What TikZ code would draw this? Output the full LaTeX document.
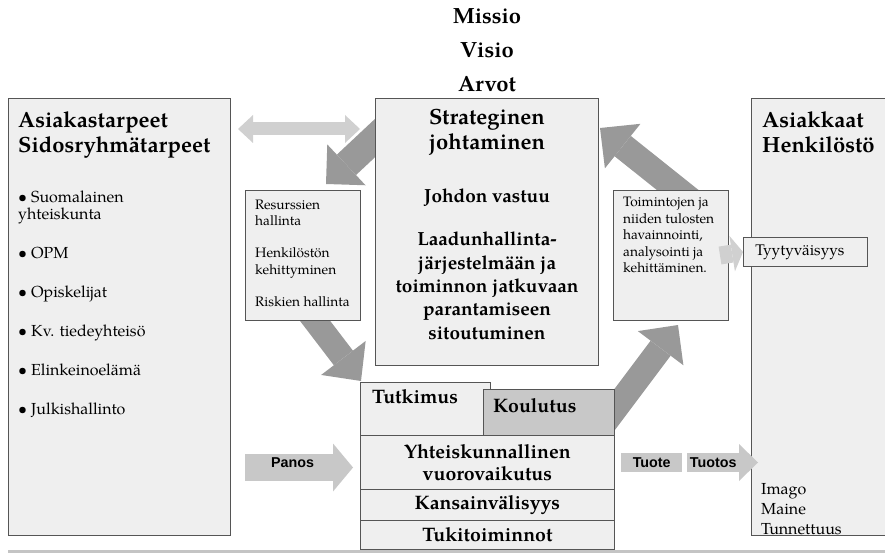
\documentclass[tikz,border=0pt]{standalone}
\usepackage{fontspec}
\setmainfont{TeX Gyre Pagella}
\newfontfamily\arialfont{Liberation Sans}
\usepackage{tikz}
\usetikzlibrary{arrows.meta}
\definecolor{boxfill}{HTML}{EFEFEF}
\definecolor{boxline}{HTML}{555555}
\definecolor{darkfill}{HTML}{C8C8C8}
\definecolor{bigarrow}{HTML}{999999}
\definecolor{lightarrow}{HTML}{D0D0D0}
\definecolor{footline}{HTML}{C4C4C4}
\newcommand{\fsz}[2]{\fontsize{#1}{#2}\selectfont}
\tikzset{
  panel/.style={draw=boxline, fill=boxfill, line width=0.8pt, inner sep=0pt, anchor=north west},
  flow/.style n args={3}{line width=#1, -{Triangle[width=#2, length=#3, line width=0pt]}},
  twoway/.style n args={3}{line width=#1,
    {Triangle[width=#2, length=#3, line width=0pt]}-{Triangle[width=#2, length=#3, line width=0pt]}},
  bigtitle/.style={font=\bfseries\fsz{22}{25}, align=left, inner sep=0pt},
  midtitle/.style={font=\bfseries\fsz{19}{23.3}, align=center, inner sep=0pt},
  stacktxt/.style={font=\bfseries\fsz{19.5}{22}, align=center},
  smalltxt/.style={font=\fsz{13.7}{16.4}, align=left, inner sep=0pt},
  arrowtxt/.style={font=\arialfont\bfseries\fsz{14.3}{16}, text=black, inner sep=0pt}
}

\begin{document}
\begin{tikzpicture}[x=1pt, y=-1pt]
  \useasboundingbox (0,0) rectangle (885,553);
  % big grey arrows, partly under the boxes
  \coordinate (leadTail) at (406,109);
  \coordinate (leadTip) at (326,184);
  \coordinate (resTail) at (306,309);
  \coordinate (resTip) at (361,381);
  \coordinate (evalTail) at (694,203);
  \coordinate (evalTip) at (600,128);
  \coordinate (coreTail) at (594,437);
  \coordinate (coreTip) at (678,325);
  \draw[bigarrow, flow={28pt}{56pt}{28pt}] (leadTail) -- (leadTip);
  \draw[bigarrow, flow={24pt}{56pt}{29pt}] (resTail) -- (resTip);
  \draw[bigarrow, flow={26pt}{57pt}{29pt}] (evalTail) -- (evalTip);
  \draw[bigarrow, flow={25pt}{57pt}{29pt}] (coreTail) -- (coreTip);
  \draw[footline, line width=3pt] (8,551) -- (885,551);

  % Mission, vision, values
  \node[bigtitle, anchor=base] (missio) at (487,24) {Missio};
  \node[bigtitle, anchor=base] (visio) at (487,58) {Visio};
  \node[bigtitle, anchor=base] (arvot) at (487,92) {Arvot};

  % left column (base = last line)
  \node[panel, minimum width=222, minimum height=437] (needs) at (8,98) {};
  \node[bigtitle, anchor=base west] (needsTitle) at (18,153) {Asiakastarpeet\\Sidosryhmätarpeet};
  \node[font=\fsz{16}{17}, align=left, inner sep=0pt, anchor=base west] (needsList) at (18,414)
    {• Suomalainen\\yhteiskunta\\[22pt]• OPM\\[22pt]• Opiskelijat\\[22pt]• Kv. tiedeyhteisö\\[22pt]%
     • Elinkeinoelämä\\[22pt]• Julkishallinto};

  % management
  \node[panel, minimum width=223, minimum height=267] (strategy) at (375,98) {};
  \node[bigtitle, align=center, anchor=base] (strategyTitle) at (487,150) {Strateginen\\johtaminen};
  \node[midtitle, anchor=base] (duty) at (487,203) {Johdon vastuu};
  \node[midtitle, anchor=base] (commit) at (487,339)
    {Laadunhallinta-\\järjestelmään ja\\toiminnon jatkuvaan\\parantamiseen\\sitoutuminen};

  \node[panel, minimum width=115, minimum height=130] (resources) at (245,190) {};
  \node[smalltxt, anchor=base west] (resourcesTxt) at (255,306)
    {Resurssien\\hallinta\\[15.5pt]Henkilöstön\\kehittyminen\\[15.5pt]Riskien hallinta};

  \node[panel, minimum width=115, minimum height=130] (review) at (613,190) {};
  \node[smalltxt, anchor=base west] (reviewTxt) at (623,272.5)
    {Toimintojen ja\\niiden tulosten\\havainnointi,\\analysointi ja\\kehittäminen.};

  % right column
  \node[panel, minimum width=140, minimum height=437] (clients) at (751,98) {};
  \node[bigtitle, anchor=base west] (clientsTitle) at (762,153) {Asiakkaat\\Henkilöstö};
  \node[panel, minimum width=124, minimum height=29, text width=100, inner xsep=12,
        align=left, font=\fsz{15.4}{18}] (satisfaction) at (743,237) {Tyytyväisyys};
  \node[font=\fsz{16}{20}, align=left, inner sep=0pt, anchor=base west] (image) at (761,534)
    {Imago\\Maine\\Tunnettuus};

  % core activities
  \node[panel, minimum width=130, minimum height=53] (research) at (360,382) {};
  \node[stacktxt, inner sep=0pt, anchor=base west] (researchTxt) at (372,403) {Tutkimus};
  \node[panel, fill=darkfill, minimum width=131, minimum height=46] (teaching) at (483,389) {};
  \node[stacktxt, inner sep=0pt, anchor=base west] (teachingTxt) at (493,412) {Koulutus};
  \node[panel, stacktxt, minimum width=254, minimum height=54] (society) at (360,435)
    {Yhteiskunnallinen\\vuorovaikutus};
  \node[panel, stacktxt, minimum width=254, minimum height=31] (intl) at (360,489) {Kansainvälisyys};
  \node[panel, stacktxt, minimum width=254, minimum height=29] (support) at (360,520) {Tukitoiminnot};

  % light arrows
  \coordinate (needsOut) at (238,129);
  \coordinate (strategyIn) at (360,129);
  \draw[lightarrow, twoway={13pt}{28pt}{15pt}] (needsOut) -- (strategyIn);
  \coordinate (inputTail) at (245,467.5);
  \coordinate (inputTip) at (353,467.5);
  \draw[darkfill, flow={27pt}{48pt}{20pt}] (inputTail) -- node[arrowtxt, pos=0.44, yshift=4.5pt] {Panos} (inputTip);
  \node[fill=darkfill, minimum width=61, minimum height=19, inner sep=0pt, anchor=north west,
        font=\arialfont\bfseries\fsz{14.3}{16}] (product) at (621,453) {Tuote};
  \coordinate (outcomeTail) at (687,462.5);
  \coordinate (outcomeTip) at (758,462.5);
  \draw[darkfill, flow={19pt}{37pt}{19pt}] (outcomeTail) -- node[arrowtxt, pos=0.37] {Tuotos} (outcomeTip);
  \coordinate (reviewOut) at (720,255.5);
  \draw[lightarrow, flow={18pt}{36pt}{11pt}] (reviewOut) -- (satisfaction.west);
\end{tikzpicture}
\end{document}
